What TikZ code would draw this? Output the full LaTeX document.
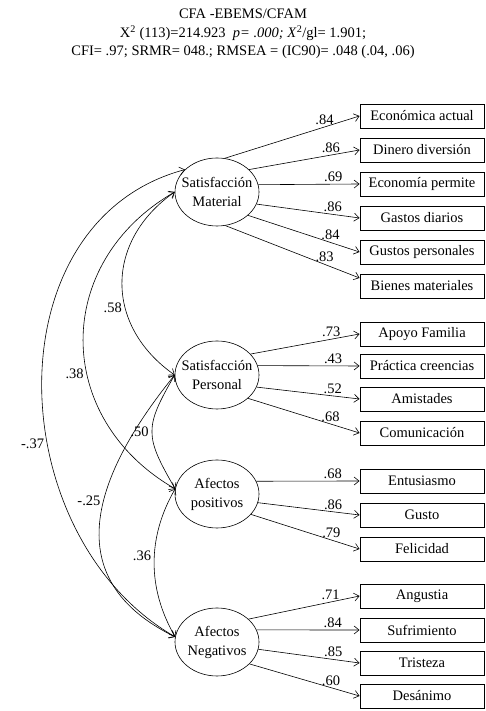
\documentclass[tikz,border=0pt]{standalone}
\usepackage{fontspec}
\setmainfont{Liberation Serif}
\usetikzlibrary{arrows.meta, shapes.geometric}

\begin{document}
\begin{tikzpicture}[x=1pt, y=1pt,
                    font=\fontsize{14.5}{19}\selectfont,
                    lat_var/.style={ellipse, draw, line width=0.6pt, align=center, minimum width=84pt, minimum height=68pt, inner xsep=-6pt, inner ysep=0pt},
                    obs_var/.style={rectangle, draw, line width=0.9pt, minimum width=124pt, minimum height=24pt, inner sep=0pt},
                    load_arr/.style={-{Straight Barb[length=5pt, width=8pt]}, line width=0.6pt},
                    cov_arr/.style={{Straight Barb[length=5pt, width=8pt]}-{Straight Barb[length=5pt, width=8pt]}, line width=0.6pt},
                    coef/.style={pos=0.74, above=1pt, inner sep=1pt},
                    ccoef/.style={left=2pt, inner sep=1pt}]

            \useasboundingbox (0,0) rectangle (486,711);

            % fit indices
            \node (title) at (243,697) {CFA -EBEMS/CFAM};
            \node (fit1)  at (243,678) {X\textsuperscript{2} (113)=214.923 \ \textit{p= .000; X}\textsuperscript{2}/gl= 1.901;};
            \node (fit2)  at (243,659) {CFI= .97; SRMR= 048.; RMSEA = (IC90)= .048 (.04, .06)};

            % factors
            \node[lat_var] (mat) at (217,519) {Satisfacción\\Material};
            \node[lat_var] (per) at (217,336) {Satisfacción\\Personal};
            \node[lat_var] (apo) at (217,217) {Afectos\\positivos};
            \node[lat_var] (ane) at (217,69)  {Afectos\\Negativos};

            % items
            \node[obs_var] (m1) at (422,595) {Económica actual};
            \node[obs_var] (m2) at (422,561) {Dinero diversión};
            \node[obs_var] (m3) at (422,527) {Economía permite};
            \node[obs_var] (m4) at (422,493) {Gastos diarios};
            \node[obs_var] (m5) at (422,459) {Gustos personales};
            \node[obs_var] (m6) at (422,425) {Bienes materiales};

            \node[obs_var] (p1) at (422,377) {Apoyo Familia};
            \node[obs_var] (p2) at (422,345) {Práctica creencias};
            \node[obs_var] (p3) at (422,312) {Amistades};
            \node[obs_var] (p4) at (422,278) {Comunicación};

            \node[obs_var] (a1) at (422,230) {Entusiasmo};
            \node[obs_var] (a2) at (422,196) {Gusto};
            \node[obs_var] (a3) at (422,162) {Felicidad};

            \node[obs_var] (n1) at (422,115) {Angustia};
            \node[obs_var] (n2) at (422,81)  {Sufrimiento};
            \node[obs_var] (n3) at (422,48)  {Tristeza};
            \node[obs_var] (n4) at (422,15)  {Desánimo};

            % loadings
            \draw[load_arr] (mat.77)  -- (m1.west) node[coef] {.84};
            \draw[load_arr] (mat.35)  -- (m2.west) node[coef] {.86};
            \draw[load_arr] (mat.10)  -- (m3.west) node[coef] {.69};
            \draw[load_arr] (mat.343) -- (m4.west) node[coef] {.86};
            \draw[load_arr] (mat.323) -- (m5.west) node[coef] {.84};
            \draw[load_arr] (mat.284) -- ([yshift=8pt]m6.west) node[coef] {.83};

            \draw[load_arr] (per.32)  -- (p1.west) node[coef] {.73};
            \draw[load_arr] (per.13)  -- (p2.west) node[coef] {.43};
            \draw[load_arr] (per.343) -- (p3.west) node[coef] {.52};
            \draw[load_arr] (per.323) -- (p4.west) node[coef] {.68};

            \draw[load_arr] (apo.18)  -- (a1.west) node[coef] {.68};
            \draw[load_arr] (apo.348) -- (a2.west) node[coef] {.86};
            \draw[load_arr] (apo.329) -- (a3.west) node[coef] {.79};

            \draw[load_arr] (ane.36)  -- (n1.west) node[coef] {.71};
            \draw[load_arr] (ane.17)  -- (n2.west) node[coef] {.84};
            \draw[load_arr] (ane.350) -- (n3.west) node[coef] {.85};
            \draw[load_arr] (ane.326) -- (n4.west) node[coef] {.60};

            % correlations
            \draw[cov_arr] (mat.145) to[out=195, in=150, looseness=1.1]  node[ccoef, pos=0.6] {-.37} (ane.173);
            \draw[cov_arr] (mat.west) to[out=210, in=150, looseness=1.22] node[ccoef, pos=0.6] {.38} (apo.173);
            \draw[cov_arr] (mat.west) to[out=215, in=145, looseness=1.2]  node[ccoef, pos=0.62] {.58} (per.west);
            \draw[cov_arr] (per.west) to[out=231, in=154, looseness=1.28] node[ccoef, pos=0.42] {-.25} (ane.173);
            \draw[cov_arr] (per.west) to[out=240, in=120, looseness=1.37] node[ccoef, pos=0.5] {.50} (apo.173);
            \draw[cov_arr] (apo.173)  to[out=240, in=120, looseness=0.97] node[ccoef, pos=0.45] {.36} (ane.173);
        \end{tikzpicture}
\end{document}
